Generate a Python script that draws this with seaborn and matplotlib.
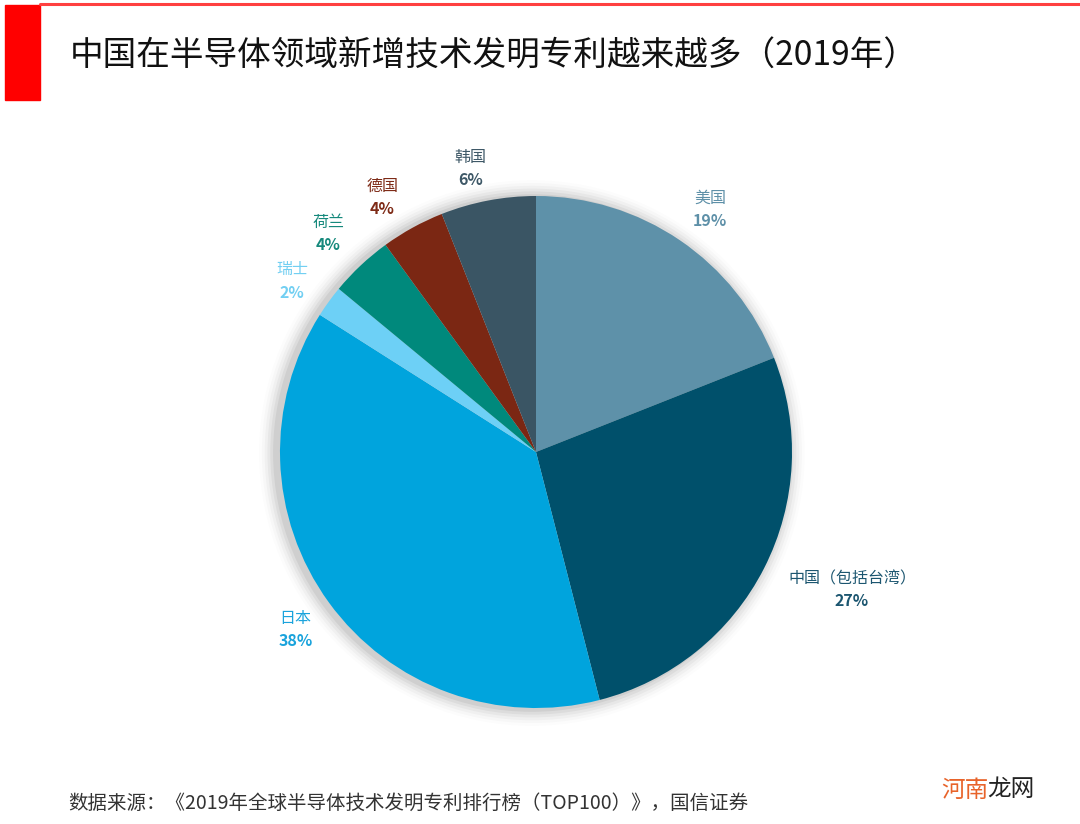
import matplotlib
matplotlib.use("Agg")
import matplotlib.pyplot as plt
import seaborn as sns
import numpy as np

# data (2019 new semiconductor patents, share by country)
countries = ["美国", "中国（包括台湾）", "日本", "瑞士", "荷兰", "德国", "韩国"]
shares = [19, 27, 38, 2, 4, 4, 6]
slice_colors = ["#5E91A9", "#00506B", "#00A4DD", "#6DD0F6", "#00897C", "#7B2713", "#3A5564"]
label_colors = ["#5E90A8", "#1C5670", "#1AA3DC", "#72CFF2", "#16897C", "#7E2B17", "#3E5867"]

title = "中国在半导体领域新增技术发明专利越来越多（2019年）"
source = "数据来源：《2019年全球半导体技术发明专利排行榜（TOP100）》，国信证券"

sns.set_theme(style="white")
plt.rcParams["font.family"] = ["Noto Sans CJK SC", "DejaVu Sans"]

fig = plt.figure(figsize=(10.8, 8.24), dpi=100)
fig.patch.set_facecolor("white")

# header decoration: red block + thin red rule
fig.patches.append(plt.Rectangle((5 / 1080, 1 - 100 / 824), 35 / 1080, 95 / 824,
                                 transform=fig.transFigure, color="#FF0000", zorder=0))
fig.lines.append(plt.Line2D([40 / 1080, 1], [1 - 4 / 824, 1 - 4 / 824],
                            transform=fig.transFigure, color="#FF4040", lw=2.2))

fig.text(70 / 1080, 1 - 56 / 824, title, fontsize=24.2, color="#111111",
         ha="left", va="center")

# pie axes: centre ~ (536, 452) px, radius ~256 px
k = 1.45
w_px = 2 * 256 * k
ax = fig.add_axes([536 / 1080 - w_px / 2 / 1080, (824 - 452) / 824 - w_px / 2 / 824,
                   w_px / 1080, w_px / 824])

# soft shadow behind the pie
for i, a in enumerate(np.linspace(0.05, 0.012, 6)):
    ax.add_patch(plt.Circle((-0.016, -0.004), 1.0 + 0.011 * (i + 1), color="#000000",
                            alpha=a, lw=0, zorder=0))

wedges, _ = ax.pie(shares, colors=slice_colors, startangle=90, counterclock=False,
                   wedgeprops=dict(linewidth=0), radius=1.0)
for wd in wedges:
    wd.set_zorder(2)

# label placement: radius and angle nudge (deg) from the wedge middle
label_dist = [1.17, 1.345, 1.165, 1.165, 1.18, 1.165, 1.14]
label_turn = [-1.4, 3.6, 0.3, 0.8, 0.3, 2.2, 2.1]
for wd, name, pct, col, d, t in zip(wedges, countries, shares, label_colors,
                                    label_dist, label_turn):
    ang = np.deg2rad((wd.theta1 + wd.theta2) / 2 + t)
    x, y = d * np.cos(ang), d * np.sin(ang)
    ax.annotate(name, (x, y), xytext=(0, 7.3), textcoords="offset points",
                ha="center", va="center", fontsize=11.5, color=col, fontweight="medium")
    ax.annotate(f"{pct}%", (x, y), xytext=(0, -9.0), textcoords="offset points",
                ha="center", va="center", fontsize=11.5, color=col, fontweight="bold")

ax.set_xlim(-k, k)
ax.set_ylim(-k, k)
ax.set_aspect("equal")
ax.axis("off")

fig.text(68 / 1080, 1 - 803 / 824, source, fontsize=14, color="#333333",
         ha="left", va="center")

# site watermark
fig.text(941 / 1080, 1 - 790 / 824, "河南", fontsize=17, color="#E8632A",
         ha="left", va="center")
fig.text(987 / 1080, 1 - 790 / 824, "龙网", fontsize=17, color="#222222",
         ha="left", va="center")

fig.savefig("out.png", dpi=100, facecolor="white")
